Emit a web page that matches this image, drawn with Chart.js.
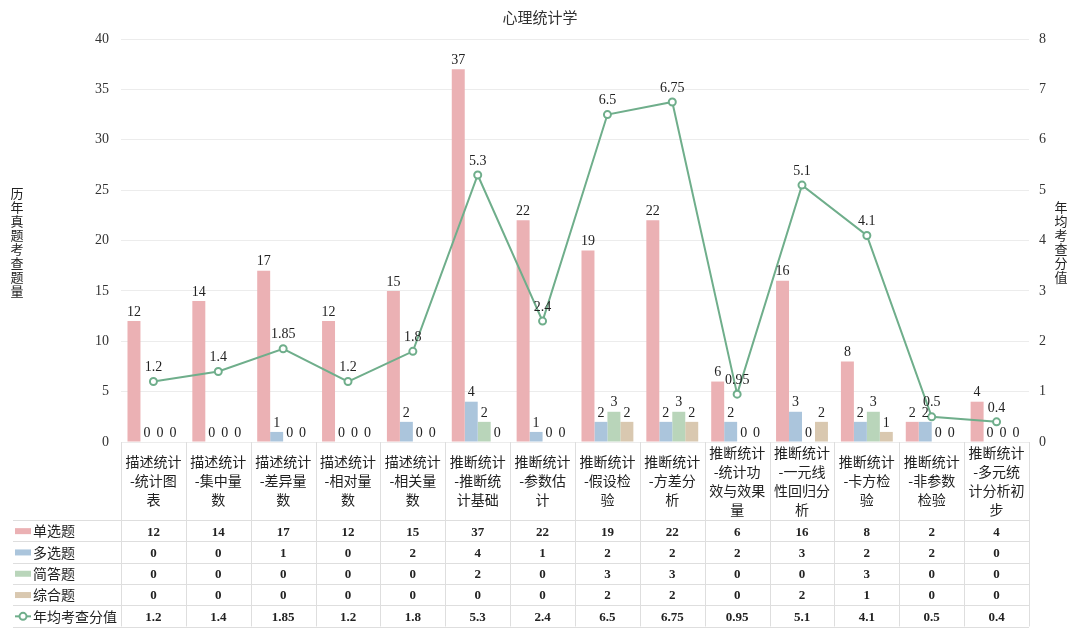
<!DOCTYPE html>
<html>
<head>
<meta charset="utf-8">
<script src="https://cdn.jsdelivr.net/npm/chart.js@4.4.1/dist/chart.umd.min.js"></script>
<style>
  html, body { margin: 0; padding: 0; background: #fff; }
  #wrap { width: 1080px; height: 631px; }
</style>
</head>
<body>
<div id="wrap"><canvas id="chart"></canvas></div>
<script>
const categories = [
  '描述统计-统计图表', '描述统计-集中量数', '描述统计-差异量数', '描述统计-相对量数',
  '描述统计-相关量数', '推断统计-推断统计基础', '推断统计-参数估计', '推断统计-假设检验',
  '推断统计-方差分析', '推断统计-统计功效与效果量', '推断统计-一元线性回归分析',
  '推断统计-卡方检验', '推断统计-非参数检验', '推断统计-多元统计分析初步'
];
const singleChoice = [12, 14, 17, 12, 15, 37, 22, 19, 22, 6, 16, 8, 2, 4];
const multiChoice  = [0, 0, 1, 0, 2, 4, 1, 2, 2, 2, 3, 2, 2, 0];
const shortAnswer  = [0, 0, 0, 0, 0, 2, 0, 3, 3, 0, 0, 3, 0, 0];
const essay        = [0, 0, 0, 0, 0, 0, 0, 2, 2, 0, 2, 1, 0, 0];
const avgScore     = [1.2, 1.4, 1.85, 1.2, 1.8, 5.3, 2.4, 6.5, 6.75, 0.95, 5.1, 4.1, 0.5, 0.4];
const leftTicks = { min: 0, max: 40, step: 5 };
const rightTicks = { min: 0, max: 8, step: 1 };

const SERIF = '"Liberation Serif", "Times New Roman", serif';
const CJK = '"Noto Sans CJK SC", "Noto Sans", sans-serif';
const lineColor = '#6fae8b';
const gridColor = '#ececec';
const tableColor = '#dedede';

// title, axis titles, value labels and the data table under the plot
const extras = {
  id: 'extras',
  afterDatasetsDraw(chart) {
    const ctx = chart.ctx;
    ctx.save();
    ctx.fillStyle = '#222';
    ctx.textAlign = 'center';
    ctx.textBaseline = 'bottom';
    ctx.font = '14px ' + SERIF;
    chart.data.datasets.forEach((ds, i) => {
      const meta = chart.getDatasetMeta(i);
      meta.data.forEach((el, j) => {
        const off = ds.type === 'line' ? 7 : 2;
        ctx.fillText(String(ds.data[j]), el.x, el.y - off);
      });
    });
    ctx.restore();
  },
  afterDraw(chart) {
    const ctx = chart.ctx;
    const area = chart.chartArea;
    const x = chart.scales.x;
    ctx.save();

    // title
    ctx.fillStyle = '#333';
    ctx.textAlign = 'center';
    ctx.textBaseline = 'middle';
    ctx.font = '15px ' + CJK;
    ctx.fillText('心理统计学', 540, 17);

    // vertical axis titles, one upright character per line
    ctx.font = '13px ' + CJK;
    ctx.fillStyle = '#222';
    const vert = (txt, cx, cy) => {
      const chars = [...txt];
      const lh = 14;
      const y0 = cy - (chars.length - 1) * lh / 2;
      chars.forEach((c, k) => ctx.fillText(c, cx, y0 + k * lh));
    };
    vert('历年真题考查题量', 17, 242);
    vert('年均考查分值', 1061, 242);

    // table
    const colW = (area.right - area.left) / categories.length;
    const headTop = area.bottom;
    const headBot = 520;
    const rowH = 21.3;
    const rows = [
      { name: '单选题', data: singleChoice, color: '#ebb1b4' },
      { name: '多选题', data: multiChoice, color: '#abc5dc' },
      { name: '简答题', data: shortAnswer, color: '#b9d5ba' },
      { name: '综合题', data: essay, color: '#d9c8b0' },
      { name: '年均考查分值', data: avgScore, line: true }
    ];
    const tableBot = headBot + rowH * rows.length;

    ctx.strokeStyle = tableColor;
    ctx.lineWidth = 1;
    for (let k = 0; k <= categories.length; k++) {
      const lx = Math.round(area.left + k * colW) + 0.5;
      ctx.beginPath();
      ctx.moveTo(lx, headTop);
      ctx.lineTo(lx, tableBot);
      ctx.stroke();
    }
    for (let r = 0; r <= rows.length; r++) {
      const ly = Math.round(headBot + r * rowH) + 0.5;
      ctx.beginPath();
      ctx.moveTo(13, ly);
      ctx.lineTo(area.right, ly);
      ctx.stroke();
    }

    // header labels, wrapped to the column
    ctx.font = '14px ' + CJK;
    ctx.fillStyle = '#222';
    ctx.textAlign = 'center';
    ctx.textBaseline = 'middle';
    const maxW = colW - 7;
    categories.forEach((label, i) => {
      const lines = [];
      let cur = '';
      for (const ch of label) {
        if (cur && ctx.measureText(cur + ch).width > maxW) {
          lines.push(cur);
          cur = ch;
        } else {
          cur += ch;
        }
      }
      if (cur) lines.push(cur);
      const lh = 19;
      const cy = (headTop + headBot) / 2;
      const y0 = cy - (lines.length - 1) * lh / 2;
      const cx = x.getPixelForValue(i);
      lines.forEach((ln, k) => ctx.fillText(ln, cx, y0 + k * lh));
    });

    // rows
    rows.forEach((row, r) => {
      const cy = headBot + r * rowH + rowH / 2 + 0.5;
      if (row.line) {
        ctx.strokeStyle = lineColor;
        ctx.lineWidth = 2;
        ctx.beginPath();
        ctx.moveTo(15, cy);
        ctx.lineTo(31, cy);
        ctx.stroke();
        ctx.beginPath();
        ctx.arc(23, cy, 3.5, 0, Math.PI * 2);
        ctx.fillStyle = '#fff';
        ctx.fill();
        ctx.stroke();
      } else {
        ctx.fillStyle = row.color;
        ctx.fillRect(15, cy - 3, 16, 6);
      }
      ctx.fillStyle = '#222';
      ctx.textAlign = 'left';
      ctx.font = '14px ' + CJK;
      ctx.fillText(row.name, 33, cy);
      ctx.textAlign = 'center';
      ctx.font = 'bold 13px ' + SERIF;
      row.data.forEach((v, i) => {
        ctx.fillText(String(v), x.getPixelForValue(i), cy + 1);
      });
    });
    ctx.restore();
  }
};

const barSet = (label, data, color) => ({
  type: 'bar',
  label,
  data,
  backgroundColor: color,
  borderWidth: 0,
  categoryPercentage: 0.8,
  barPercentage: 1.0,
  yAxisID: 'y',
  order: 2
});

new Chart(document.getElementById('chart'), {
  data: {
    labels: categories,
    datasets: [
      barSet('单选题', singleChoice, '#ebb1b4'),
      barSet('多选题', multiChoice, '#abc5dc'),
      barSet('简答题', shortAnswer, '#b9d5ba'),
      barSet('综合题', essay, '#d9c8b0'),
      {
        type: 'line',
        label: '年均考查分值',
        data: avgScore,
        borderColor: lineColor,
        borderWidth: 2,
        pointRadius: 3.5,
        pointBorderWidth: 2,
        pointBackgroundColor: '#fff',
        pointBorderColor: lineColor,
        tension: 0,
        yAxisID: 'y1',
        order: 1
      }
    ]
  },
  options: {
    responsive: true,
    maintainAspectRatio: false,
    animation: false,
    layout: { padding: { top: 39, bottom: 189, left: 0, right: 0 } },
    plugins: {
      legend: { display: false },
      title: { display: false },
      tooltip: { enabled: false }
    },
    scales: {
      x: {
        display: false,
        offset: true
      },
      y: {
        position: 'left',
        min: leftTicks.min,
        max: leftTicks.max,
        ticks: {
          stepSize: leftTicks.step,
          padding: 12,
          color: '#333',
          font: { family: SERIF, size: 14 }
        },
        grid: { color: gridColor, drawTicks: false },
        border: { display: false },
        afterFit(scale) { scale.width = 121; }
      },
      y1: {
        position: 'right',
        min: rightTicks.min,
        max: rightTicks.max,
        ticks: {
          stepSize: rightTicks.step,
          padding: 10,
          color: '#333',
          font: { family: SERIF, size: 14 }
        },
        grid: { display: false, drawTicks: false },
        border: { display: false },
        afterFit(scale) { scale.width = 51; }
      }
    }
  },
  plugins: [extras]
});
</script>
</body>
</html>
